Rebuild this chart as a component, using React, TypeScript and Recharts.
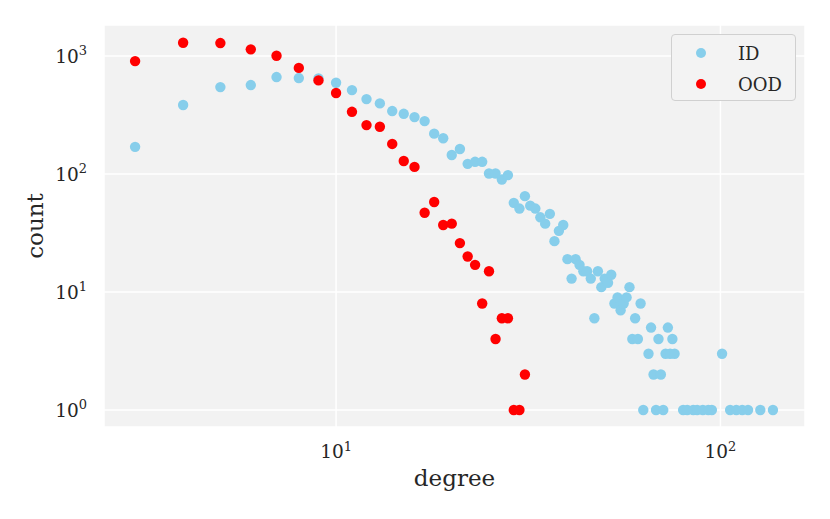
import React from "react";
import {
  ScatterChart,
  Scatter,
  XAxis,
  YAxis,
  CartesianGrid,
} from "recharts";

const FONT = "'DejaVu Serif', serif";

// degree -> count, in-distribution graphs
const idDegrees = [
  3, 4, 5, 6, 7, 8, 9, 10, 11, 12, 13, 14, 15, 16, 17, 18, 19, 20, 21, 22, 23,
  24, 25, 26, 27, 28, 29, 30, 31, 32, 33, 34, 35, 36, 37, 38, 39, 40, 41, 42,
  43, 44, 45, 46, 47, 48, 49, 50, 51, 52, 53, 54, 55, 56, 57, 58, 59, 60, 61,
  62, 63, 65, 66, 67, 68, 69, 70, 71, 72, 73, 74, 75, 76, 80, 82, 85, 87, 90,
  93, 95, 101, 106, 110, 114, 118, 127, 137,
];
const idCounts = [
  170, 385, 546, 568, 664, 651, 645, 594, 515, 432, 397, 342, 324, 304, 281,
  220, 201, 145, 163, 122, 127, 127, 101, 101, 90, 98, 57, 51, 65, 54, 51, 43,
  38, 46, 27, 33, 37, 19, 13, 19, 17, 15, 15, 13, 6, 15, 11, 13, 12, 14, 8, 9,
  7, 8, 9, 11, 4, 6, 4, 8, 1, 3, 5, 2, 1, 4, 2, 1, 3, 5, 3, 4, 3, 1, 1, 1, 1,
  1, 1, 1, 3, 1, 1, 1, 1, 1, 1,
];

// out-of-distribution graphs
const oodDegrees = [
  3, 4, 5, 6, 7, 8, 9, 10, 11, 12, 13, 14, 15, 16, 17, 18, 19, 20, 21, 22, 23,
  24, 25, 26, 27, 28, 29, 30, 31,
];
const oodCounts = [
  907, 1297, 1289, 1140, 1006, 794, 622, 486, 337, 260, 252, 180, 129, 115, 47,
  58, 37, 38, 26, 20, 17, 8, 15, 4, 6, 6, 1, 1, 2,
];

const xTicks = [10, 100];
const yTicks = [1, 10, 100, 1000];

const seriesNames = ["ID", "OOD"];
const seriesColors = ["#87ceeb", "#ff0000"];

const idData = idDegrees.map((d, i) => ({ degree: d, count: idCounts[i] }));
const oodData = oodDegrees.map((d, i) => ({ degree: d, count: oodCounts[i] }));

const PLOT_BOTTOM = 427;

function powLabel(v: number) {
  return Math.round(Math.log10(v));
}

const XTick = (p: any) => (
  <text
    x={p.x}
    y={PLOT_BOTTOM + 31}
    textAnchor="middle"
    fontFamily={FONT}
    fontSize={18.5}
    fill="#262626"
  >
    <tspan>10</tspan>
    <tspan dy={-7.5} fontSize={13}>
      {powLabel(p.payload.value)}
    </tspan>
  </text>
);

const YTick = (p: any) => (
  <text
    x={87}
    y={p.y + 6.5}
    textAnchor="end"
    fontFamily={FONT}
    fontSize={18.5}
    fill="#262626"
  >
    <tspan>10</tspan>
    <tspan dy={-7.5} fontSize={13}>
      {powLabel(p.payload.value)}
    </tspan>
  </text>
);

const dot = (color: string) => (p: any) =>
  <circle cx={p.cx} cy={p.cy} r={5.2} fill={color} />;

// matplotlib-style legend box, top right inside the axes
function LegendBox() {
  return (
    <div
      style={{
        position: "absolute",
        left: 671,
        top: 34,
        width: 123,
        height: 65,
        border: "1px solid #d0d0d0",
        borderRadius: 4,
        background: "#f3f3f3",
        fontFamily: FONT,
        fontSize: 18,
        color: "#262626",
      }}
    >
      {seriesNames.map((name, i) => (
        <div
          key={name}
          style={{
            position: "absolute",
            left: 0,
            top: 7 + i * 31,
            height: 22,
            display: "flex",
            alignItems: "center",
          }}
        >
          <span
            style={{
              display: "inline-block",
              width: 10,
              height: 10,
              borderRadius: 5,
              background: seriesColors[i],
              marginLeft: 24,
            }}
          />
          <span style={{ marginLeft: 32 }}>{name}</span>
        </div>
      ))}
    </div>
  );
}

export default function App() {
  return (
    <div
      style={{
        position: "absolute",
        left: 0,
        top: 0,
        width: 830,
        height: 519,
        background: "#fff",
      }}
    >
      <ScatterChart
        width={830}
        height={519}
        margin={{ top: 25, right: 25, bottom: 0, left: 0 }}
      >
        <CartesianGrid fill="#f2f2f2" stroke="#ffffff" strokeWidth={1.5} />
        <XAxis
          dataKey="degree"
          type="number"
          scale="log"
          domain={[2.49, 166]}
          allowDataOverflow
          ticks={xTicks}
          tick={<XTick />}
          tickLine={false}
          axisLine={false}
          height={92}
          label={{
            content: () => (
              <text
                x={454.5}
                y={486}
                textAnchor="middle"
                fontFamily={FONT}
                fontSize={23}
                fill="#262626"
              >
                degree
              </text>
            ),
          }}
        />
        <YAxis
          dataKey="count"
          type="number"
          scale="log"
          domain={[0.718, 1834]}
          allowDataOverflow
          ticks={yTicks}
          tick={<YTick />}
          tickLine={false}
          axisLine={false}
          width={104}
          label={{
            content: () => (
              <text
                x={43}
                y={226}
                transform="rotate(-90 43 226)"
                textAnchor="middle"
                fontFamily={FONT}
                fontSize={23}
                fill="#262626"
              >
                count
              </text>
            ),
          }}
        />
        <Scatter
          name={seriesNames[0]}
          data={idData}
          fill={seriesColors[0]}
          shape={dot(seriesColors[0])}
          isAnimationActive={false}
        />
        <Scatter
          name={seriesNames[1]}
          data={oodData}
          fill={seriesColors[1]}
          shape={dot(seriesColors[1])}
          isAnimationActive={false}
        />
      </ScatterChart>
      <LegendBox />
    </div>
  );
}
